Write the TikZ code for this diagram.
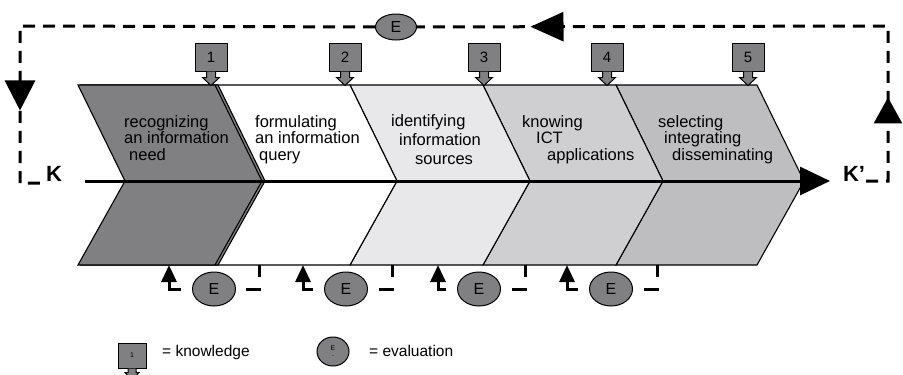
\documentclass[tikz,border=0pt]{standalone}
\usepackage{fontspec}
\setmainfont{Liberation Sans}
\usetikzlibrary{arrows.meta,decorations.markings,shapes.geometric}
\definecolor{dgray}{HTML}{808083}
\definecolor{cthree}{HTML}{E8E8EA}
\definecolor{cfour}{HTML}{CFCFD1}
\definecolor{cfive}{HTML}{BEBDC0}
\begin{document}
\begin{tikzpicture}[x=1pt,y=-1pt,
  chev/.style={draw=black, line width=1.1pt, line join=miter},
  txt/.style={anchor=base west, inner sep=0pt, font=\fontsize{16.5}{18}\selectfont},
  legtxt/.style={anchor=base west, inner sep=0pt, font=\fontsize{15.5}{17}\selectfont},
  kbox/.style={draw=black, fill=dgray, line width=1pt, minimum width=32pt, minimum height=28pt, inner sep=0pt, font=\fontsize{15}{15}\selectfont},
  kstem/.style={draw=black, fill=dgray, line width=1pt, line join=miter},
  evnode/.style={ellipse, draw=black, fill=dgray, line width=1pt, inner sep=0pt, font=\fontsize{16}{16}\selectfont},
  loopline/.style={line width=3pt, dash pattern=on 12pt off 8pt},
  big/.style={font=\bfseries\fontsize{22}{22}\selectfont, inner sep=1pt},
]
\useasboundingbox (0,0) rectangle (903,375);

% chevrons
\draw[chev, fill=cfive]  (616,85) -- (757,85) -- (804,181) -- (757,265) -- (616,265) -- (663,181) -- cycle;
\draw[chev, fill=cfour]  (483,85) -- (616,85) -- (663,181) -- (616,265) -- (483,265) -- (530,181) -- cycle;
\draw[chev, fill=cthree] (350,85) -- (483,85) -- (530,181) -- (483,265) -- (350,265) -- (397,181) -- cycle;
\draw[chev, fill=white]  (215,85) -- (350,85) -- (397,181) -- (350,265) -- (215,265) -- (262,181) -- cycle;
\draw[chev, fill=dgray]  (81,85) -- (218,85) -- (265,181) -- (218,265) -- (81,265) -- (128,181) -- cycle;
\draw[chev, fill=dgray]  (78,85) -- (215,85) -- (262,181) -- (215,265) -- (78,265) -- (125,181) -- cycle;

% texts
\node[txt] (t11) at (124,127) {recognizing};
\node[txt] (t12) at (124,143) {an information};
\node[txt] (t13) at (129,160) {need};
\node[txt] (t21) at (255,127) {formulating};
\node[txt] (t22) at (255,143) {an information};
\node[txt] (t23) at (259,160) {query};
\node[txt] (t31) at (391,126) {identifying};
\node[txt] (t32) at (399,145) {information};
\node[txt] (t33) at (415,164) {sources};
\node[txt] (t41) at (522,127) {knowing};
\node[txt] (t42) at (536,143) {ICT};
\node[txt] (t43) at (547,160) {applications};
\node[txt] (t51) at (658,127) {selecting};
\node[txt] (t52) at (664,143) {integrating};
\node[txt] (t53) at (672,160) {disseminating};

% K labels and axis
\node[big] (K) at (54,174) {K};
\node[big] (Kp) at (854,174) {K’};
\coordinate (a0) at (85,181);
\coordinate (a1) at (830,181);
\draw[line width=3pt, -{Triangle[length=30pt,width=28pt]}] (a0) -- (a1);

% knowledge boxes
\foreach \kx/\kn in {211/1, 345/2, 484/3, 607/4, 748/5} {
  \node[kbox] (k\kn) at (\kx,57) {\kn};
  \draw[kstem] ([xshift=-4.5pt]k\kn.south) -- ++(0,6) -- ++(-4,0) -- ++(8.5,8) -- ++(8.5,-8) -- ++(-4,0) -- ++(0,-6);
}

% top feedback loop
\node[evnode, minimum width=41pt, minimum height=26pt] (et) at (396,27) {E};
\coordinate (rc) at (888,181);
\coordinate (lc) at (20,183);
\draw[loopline, postaction={decorate}, decoration={markings,
   mark=at position -542.5pt with {\pgfsetdash{}{0pt}\arrow{Triangle[length=26pt,width=28pt]}},
   mark=at position -113.5pt with {\pgfsetdash{}{0pt}\arrow{Triangle[length=33pt,width=29pt]}}}]
  (Kp.east |- rc) -- (rc) -- (888,26) -- (et);
\draw[loopline, postaction={decorate}, decoration={markings,
   mark=at position 439.5pt with {\pgfsetdash{}{0pt}\arrow{Triangle[length=30pt,width=30pt]}}}]
  (et) -- (20,26) -- (lc) -- (lc -| K.west);

% bottom evaluation loops
\foreach \u/\d/\c [count=\i] in {169/259/214, 303/392/346, 438/525/479, 567/657/611} {
  \coordinate (d\i) at (\d,265);
  \coordinate (u\i) at (\u,265);
  \node[evnode, minimum width=43pt, minimum height=34pt] (e\i) at (\c,289) {E};
  \draw[line width=3pt, dash pattern=on 12pt off 11pt on 14pt off 40pt] (d\i) |- (e\i);
  \draw[line width=3pt, shorten <=11pt, -{Triangle[length=17pt,width=15pt]}] (e\i) -| (u\i);
}

% legend
\node[kbox, minimum width=28pt, minimum height=25pt, font=\fontsize{7}{7}\selectfont] (lk) at (132,355.5) {1};
\draw[kstem] ([xshift=-4pt]lk.south) -- ++(0,4) -- ++(-3,0) -- ++(7,8) -- ++(7,-8) -- ++(-3,0) -- ++(0,-4);
\node[legtxt] (lkt) at (162,356) {= knowledge};
\node[evnode, minimum width=32pt, minimum height=29pt, align=center, font=\fontsize{7}{6}\selectfont] (le) at (333,351.5) {E\\.};
\node[legtxt] (let) at (369,356) {= evaluation};
\end{tikzpicture}
\end{document}
